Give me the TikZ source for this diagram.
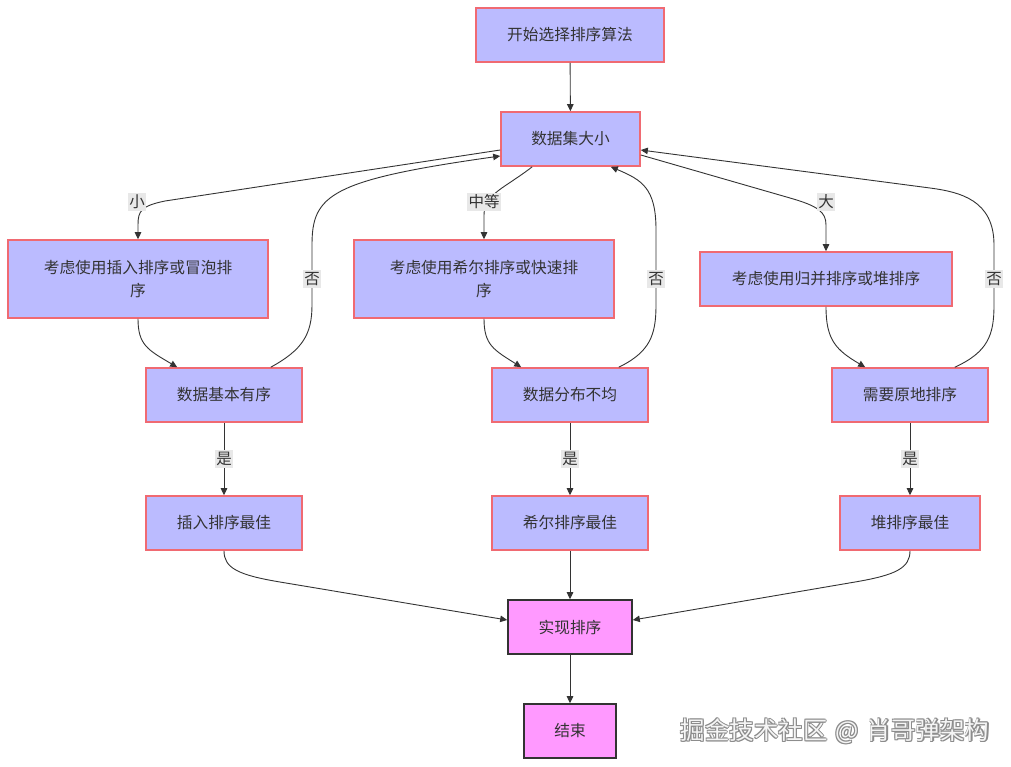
\documentclass[tikz,border=0pt]{standalone}
\usepackage{fontspec}
\setmainfont{Noto Sans CJK SC}
\usetikzlibrary{arrows.meta,calc}
\definecolor{boxfill}{HTML}{BBBBFF}
\definecolor{boxline}{HTML}{F06A72}
\definecolor{pinkfill}{HTML}{FF99FF}
\definecolor{darkline}{HTML}{333333}
\definecolor{lblbg}{HTML}{E8E8E8}
\definecolor{txt}{HTML}{333333}
\tikzset{
  bluebox/.style={draw=boxline, line width=1.6pt, fill=boxfill, text=txt, font=\fontsize{15.7}{23}\selectfont, align=center, inner sep=0pt},
  pinkbox/.style={draw=darkline, line width=1.6pt, fill=pinkfill, text=txt, font=\fontsize{15.7}{23}\selectfont, align=center, inner sep=0pt},
  conn/.style={draw=darkline, line width=0.9pt, -{Triangle[length=7pt,width=6.5pt]}},
  lbl/.style={fill=lblbg, text=txt, font=\fontsize{15.5}{18}\selectfont, inner xsep=1.5pt, inner ysep=2pt},
  wmark/.style={font=\fontsize{24.5}{27}\selectfont, anchor=center},
}
\newcommand{\wmtext}{掘金技术社区\kern8pt@\kern8pt肖哥弹架构}
\begin{document}
\begin{tikzpicture}[x=1pt,y=-1pt]
\useasboundingbox[fill=white] (0,0) rectangle (1011,766);

\node[bluebox, minimum width=188, minimum height=54] (start) at (570,35) {开始选择排序算法};
\node[bluebox, minimum width=139, minimum height=54] (dsize) at (570.5,139) {数据集大小};
\node[bluebox, minimum width=260, minimum height=78] (c1) at (138,279) {考虑使用插入排序或冒泡排\\序};
\node[bluebox, minimum width=260, minimum height=78] (c2) at (484,279) {考虑使用希尔排序或快速排\\序};
\node[bluebox, minimum width=252, minimum height=54] (c3) at (826,279) {考虑使用归并排序或堆排序};
\node[bluebox, minimum width=156, minimum height=54] (b1) at (224,395) {数据基本有序};
\node[bluebox, minimum width=156, minimum height=54] (b2) at (570,395) {数据分布不均};
\node[bluebox, minimum width=156, minimum height=54] (b3) at (910,395) {需要原地排序};
\node[bluebox, minimum width=156, minimum height=54] (r1) at (224,523) {插入排序最佳};
\node[bluebox, minimum width=156, minimum height=54] (r2) at (570,523) {希尔排序最佳};
\node[bluebox, minimum width=140, minimum height=54] (r3) at (910,523) {堆排序最佳};
\node[pinkbox, minimum width=124, minimum height=54] (impl) at (570,627) {实现排序};
\node[pinkbox, minimum width=92, minimum height=54] (fin) at (570,731) {结束};

% straight edges
\draw[conn] (start) -- (dsize);
\draw[conn] (r2) -- (impl);
\draw[conn] (impl) -- (fin);

% size branches
\draw[conn] ($(dsize.west)+(0,11)$) -- (165,201) .. controls (141,206) and (138,211) .. (138,225) -- (c1.north);
\node[lbl] (lsmall) at (137,202) {小};
\draw[conn] ($(dsize.south west)+(32,0)$) .. controls (505,188) and (484,194) .. (484,215) -- (c2.north);
\node[lbl] (lmid) at (484,202) {中等};
\draw[conn] ($(dsize.east)+(0,16)$) -- (790,198) .. controls (818,206) and (826,212) .. (826,225) -- (c3.north);
\node[lbl] (lbig) at (826,202) {大};

% down to decisions
\draw[conn] (c1.south) .. controls (138,345) and (148,350) .. ($(b1.north west)+(32,0)$);
\draw[conn] (c2.south) .. controls (484,345) and (494,350) .. ($(b2.north west)+(30,0)$);
\draw[conn] (c3.south) .. controls (826,340) and (836,350) .. ($(b3.north west)+(34,0)$);

% feedback loops
\draw[conn] ($(b1.north east)+(-32,0)$) .. controls (302,350) and (312,335) .. (312,305) -- (312,245) .. controls (312,195) and (330,180) .. ($(dsize.west)+(0,17)$);
\node[lbl] (lno1) at (312,279) {否};
\draw[conn] ($(b2.north east)+(-30,0)$) .. controls (650,352) and (656,335) .. (656,305) -- (656,230) .. controls (656,188) and (642,180) .. ($(dsize.south east)+(-30,0)$);
\node[lbl] (lno2) at (656,279) {否};
\draw[conn] ($(b3.north east)+(-34,0)$) .. controls (988,352) and (994,335) .. (994,305) -- (994,245) .. controls (994,200) and (960,192) .. (930,188) -- ($(dsize.east)+(0,11)$);
\node[lbl] (lno3) at (994,279) {否};

% yes
\draw[conn] (b1) -- node[lbl] (ly1) {是} (r1);
\draw[conn] (b2) -- node[lbl] (ly2) {是} (r2);
\draw[conn] (b3) -- node[lbl] (ly3) {是} (r3);

% results to impl
\draw[conn] (r1.south) .. controls (224,568) and (238,575) .. (280,582) -- ($(impl.west)+(0,-7)$);
\draw[conn] (r3.south) .. controls (910,568) and (896,575) .. (855,582) -- ($(impl.east)+(0,-7)$);

% watermark
\foreach \dx/\dy in {0.8/0.8,-0.8/0.8,0.8/-0.8,-0.8/-0.8,1.2/0,0/1.2}{
  \node[wmark, text=black!45] at (835+\dx,731+\dy) {\wmtext};
}
\node[wmark, text=white!96!black] (wm) at (835,731) {\wmtext};
\end{tikzpicture}
\end{document}
